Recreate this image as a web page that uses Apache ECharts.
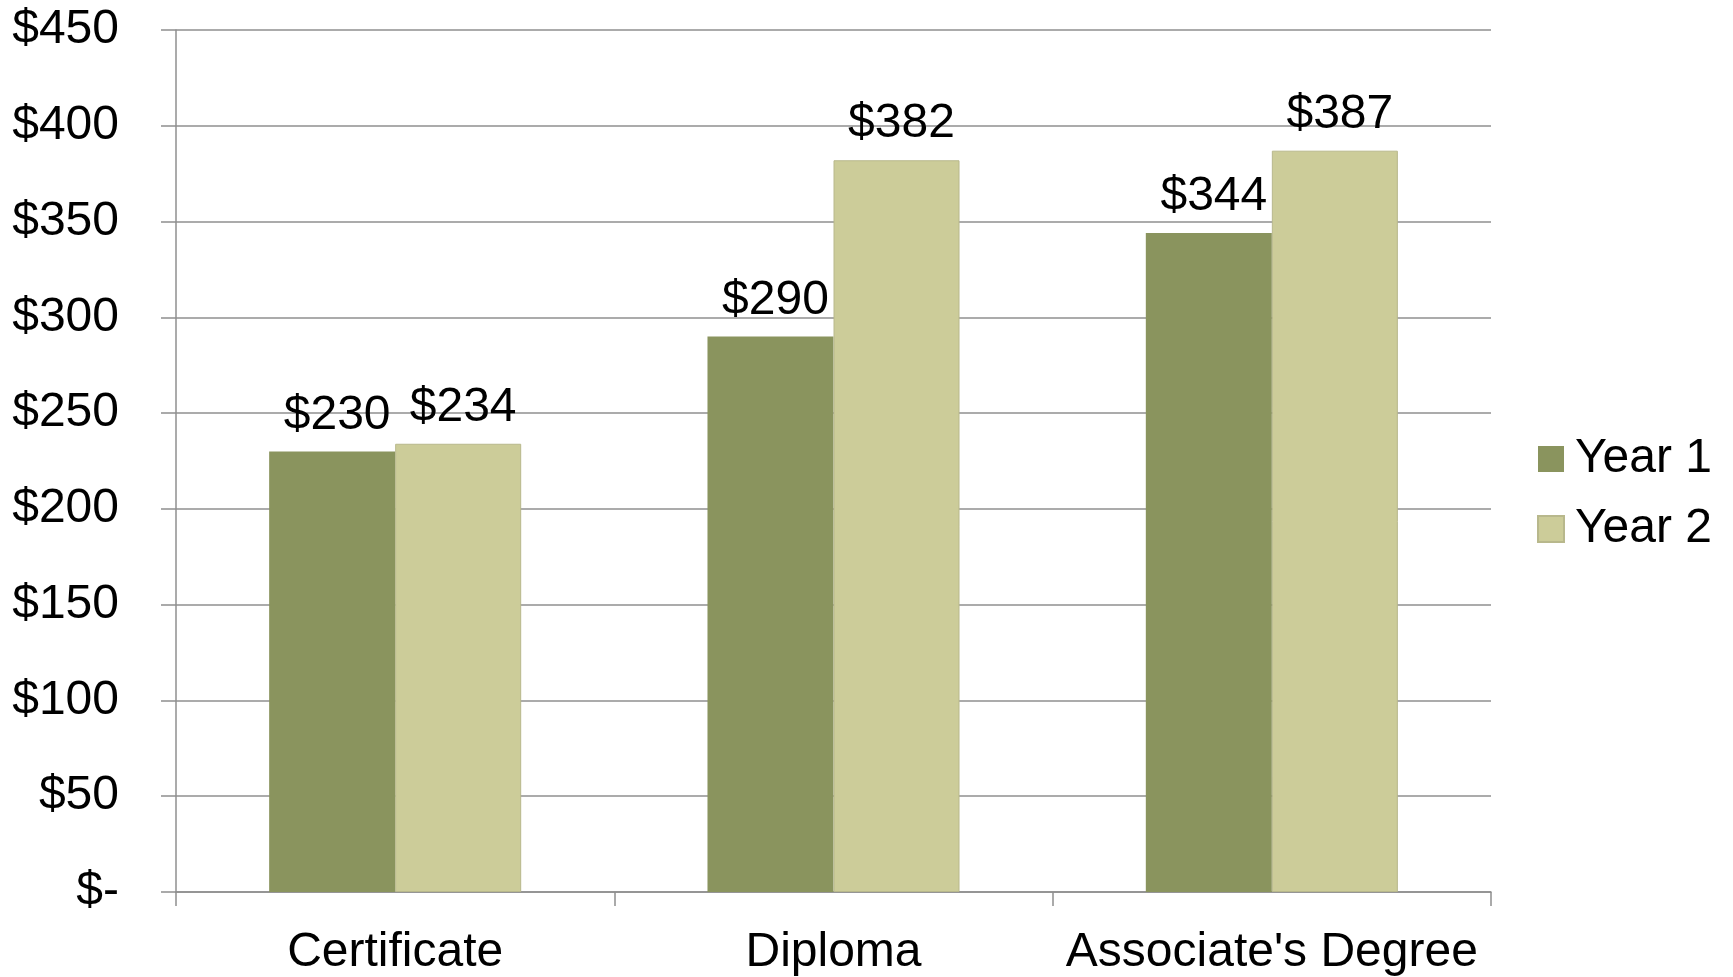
<!DOCTYPE html>
<html>
<head>
<meta charset="utf-8">
<script src="https://cdn.jsdelivr.net/npm/echarts@6/dist/echarts.min.js"></script>
<style>
  html, body { margin: 0; padding: 0; background: #fff; }
  #chart { width: 1733px; height: 977px; }
</style>
</head>
<body>
<div id="chart"></div>
<script>
// chart data
var categories = ['Certificate', 'Diploma', "Associate's Degree"]
var year1 = [230, 290, 344]
var year2 = [234, 382, 387]
var seriesNames = ['Year 1', 'Year 2']

var FONT = '"Liberation Sans", Arial, Helvetica, sans-serif'
var GRID_COLOR = '#8f8f8f'
var FS = 48

function money(v) {
  return v === 0 ? '$-' : '$' + v
}

// shared data label look (Excel puts them a touch right of centre)
function valueLabel() {
  return {
    show: true,
    position: 'top',
    distance: 12,
    offset: [5, 0],
    color: '#000',
    fontSize: FS,
    fontFamily: FONT,
    formatter: function (p) { return money(p.value) }
  }
}

var chart = echarts.init(document.getElementById('chart'), null, { renderer: 'canvas' })

chart.setOption({
  animation: false,
  textStyle: { fontFamily: FONT },
  color: ['#8a945e', '#cccc99'],
  grid: {
    left: 176,
    right: 242,
    top: 30,
    bottom: 83,
    containLabel: false
  },
  legend: {
    orient: 'vertical',
    left: 1532,
    top: 429,
    icon: 'rect',
    itemWidth: 26,
    itemHeight: 26,
    itemGap: 20,
    data: seriesNames,
    textStyle: {
      fontSize: FS,
      lineHeight: 50,
      color: '#000',
      fontFamily: FONT,
      padding: [0, 0, 0, 6]
    }
  },
  xAxis: {
    type: 'category',
    data: categories,
    axisLine: { lineStyle: { color: GRID_COLOR, width: 1.5 } },
    axisTick: {
      show: true,
      interval: 0,
      length: 14,
      alignWithLabel: false,
      lineStyle: { color: GRID_COLOR, width: 1.5 }
    },
    axisLabel: {
      interval: 0,
      hideOverlap: false,
      color: '#000',
      fontSize: FS,
      margin: 37,
      fontFamily: FONT
    }
  },
  yAxis: {
    type: 'value',
    min: 0,
    max: 450,
    interval: 50,
    axisLine: { show: true, lineStyle: { color: GRID_COLOR, width: 1.5 } },
    axisTick: {
      show: true,
      inside: false,
      length: 15,
      lineStyle: { color: GRID_COLOR, width: 1.5 }
    },
    splitLine: { lineStyle: { color: GRID_COLOR, width: 1.5 } },
    axisLabel: {
      color: '#000',
      fontSize: FS,
      margin: 57,
      fontFamily: FONT,
      formatter: money
    }
  },
  series: [
    {
      name: seriesNames[0],
      type: 'bar',
      data: year1,
      barGap: '0%',
      barCategoryGap: '42.5%',
      itemStyle: { color: '#8a945e' },
      label: valueLabel()
    },
    {
      name: seriesNames[1],
      type: 'bar',
      data: year2,
      barGap: '0%',
      barCategoryGap: '42.5%',
      itemStyle: { color: '#cccc99', borderColor: '#b8b88c', borderWidth: 1 },
      label: valueLabel()
    }
  ]
})
</script>
</body>
</html>
